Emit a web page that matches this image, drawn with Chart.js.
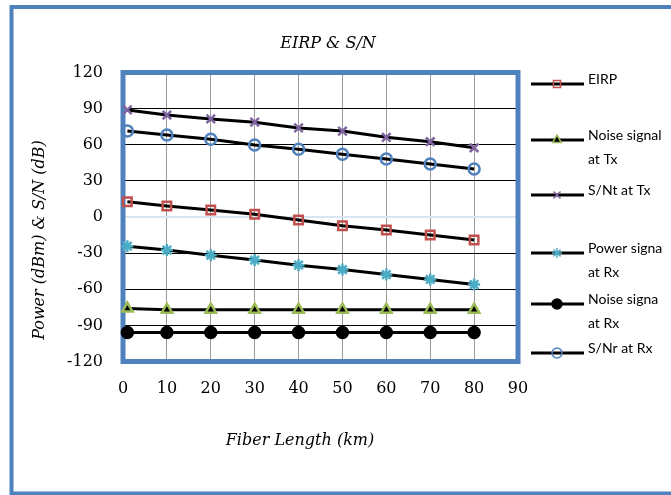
<!DOCTYPE html>
<html>
<head>
<meta charset="utf-8">
<script src="https://cdn.jsdelivr.net/npm/chart.js@4.4.1/dist/chart.umd.min.js"></script>
<style>
  html, body { margin: 0; padding: 0; background: #fff; }
  #wrap { width: 671px; height: 495px; }
</style>
</head>
<body>
<div id="wrap"><canvas id="chart" width="671" height="495"></canvas></div>
<script>
// fiber length (km)
const fiberLength = [1, 10, 20, 30, 40, 50, 60, 70, 80];

const eirp = [12.7, 9.1, 5.8, 2.2, -2.5, -7.2, -10.8, -15, -19.1];
const noiseTx = [-76, -77, -77, -77, -77, -77, -77, -77, -77];
const snTx = [88.9, 84.7, 81.4, 78.7, 74, 71.4, 66.2, 62.5, 57.5];
const powerRx = [-24.2, -27.5, -31.7, -35.8, -40, -43.6, -47.8, -51.9, -56.1];
const noiseRx = [-96, -96, -96, -96, -96, -96, -96, -96, -96];
const snRx = [71.4, 68.1, 64.5, 59.8, 56.2, 52.1, 48.2, 44, 39.9];

const seriesNames = ["EIRP", "Noise signal at Tx", "S/Nt at Tx", "Power signal at Rx", "Noise signal at Rx", "S/Nr at Rx"];
const legendLines = [["EIRP"], ["Noise signal", "at Tx"], ["S/Nt at Tx"], ["Power signa", "at Rx"], ["Noise signa", "at Rx"], ["S/Nr at Rx"]];

const chartTitle = "EIRP & S/N";
const xTitle = "Fiber Length (km)";
const yTitle = "Power (dBm) & S/N (dB)";

const BLUE = "#4F81BD";

function pts(values) {
  return values.map((v, i) => ({ x: fiberLength[i], y: v }));
}

function series(label, values, style, fill, stroke, radius) {
  return {
    label: label,
    data: pts(values),
    borderColor: "#000",
    borderWidth: 3,
    pointStyle: style,
    pointRadius: radius,
    pointHoverRadius: radius,
    pointBackgroundColor: fill,
    pointBorderColor: stroke,
    pointBorderWidth: 2.5,
    tension: 0,
    clip: false,
  };
}

const datasets = [
  series(seriesNames[0], eirp, "rect", "rgba(0,0,0,0)", "#C0504D", 6),
  series(seriesNames[1], noiseTx, "triangle", "#000", "#9BBB59", 6),
  series(seriesNames[2], snTx, "crossRot", "#8064A2", "#8064A2", 6),
  series(seriesNames[3], powerRx, "star", "#4BACC6", "#4BACC6", 6),
  series(seriesNames[4], noiseRx, "circle", "#000", "#000", 5.5),
  series(seriesNames[5], snRx, "circle", "rgba(0,0,0,0)", "#4F81BD", 5.5),
];

const legendRows = [84, 140, 195, 253, 304, 353];

const framePlugin = {
  id: "frame",
  beforeDraw(chart) {
    const ctx = chart.ctx;
    ctx.save();
    ctx.fillStyle = "#fff";
    ctx.fillRect(0, 0, chart.width, chart.height);
    ctx.strokeStyle = BLUE;
    ctx.lineWidth = 4;
    ctx.strokeRect(11.5, 7, 700, 486.5);
    ctx.restore();
  },
  beforeDatasetsDraw(chart) {
    const a = chart.chartArea;
    const ctx = chart.ctx;
    ctx.save();
    ctx.strokeStyle = BLUE;
    ctx.lineWidth = 5;
    ctx.strokeRect(a.left, a.top, a.right - a.left, a.bottom - a.top);
    ctx.restore();
  },
  afterDraw(chart) {
    const ctx = chart.ctx;
    ctx.save();
    ctx.fillStyle = "#000";
    ctx.textAlign = "center";
    ctx.textBaseline = "middle";
    ctx.font = "italic 16px 'DejaVu Serif'";
    ctx.fillText(chartTitle, 328, 44);
    ctx.fillText(xTitle, 300, 441);
    ctx.save();
    ctx.translate(40, 240);
    ctx.rotate(-Math.PI / 2);
    ctx.fillText(yTitle, 0, 0);
    ctx.restore();

    // legend
    chart.data.datasets.forEach((ds, i) => {
      const y = legendRows[i];
      ctx.strokeStyle = "#000";
      ctx.lineWidth = 3;
      ctx.beginPath();
      ctx.moveTo(531, y);
      ctx.lineTo(584, y);
      ctx.stroke();
      ctx.fillStyle = ds.pointBackgroundColor;
      ctx.strokeStyle = ds.pointBorderColor;
      ctx.lineWidth = 1.5;
      Chart.helpers.drawPoint(ctx, { pointStyle: ds.pointStyle, radius: 5, borderWidth: 1.5, rotation: 0 }, 557, y);
      ctx.fillStyle = "#000";
      ctx.textAlign = "left";
      ctx.font = "14px Lato";
      legendLines[i].forEach((t, k) => {
        ctx.fillText(t, 588, y - 5 + k * 24);
      });
    });
    ctx.restore();
  },
};

new Chart(document.getElementById("chart"), {
  type: "line",
  data: { datasets: datasets },
  options: {
    responsive: false,
    animation: false,
    layout: { padding: { left: 0, top: 72.5, right: 153, bottom: 0 } },
    plugins: {
      legend: { display: false },
      tooltip: { enabled: false },
      title: { display: false },
    },
    scales: {
      x: {
        type: "linear",
        min: 0,
        max: 90,
        afterFit: (s) => { s.height = 133.5; },
        ticks: {
          stepSize: 10,
          color: "#000",
          padding: 18,
          font: { family: "DejaVu Serif", size: 16 },
        },
        grid: { color: "#999", drawTicks: false },
        border: { display: false },
      },
      y: {
        min: -120,
        max: 120,
        afterFit: (s) => { s.width = 123; },
        ticks: {
          stepSize: 30,
          color: "#000",
          padding: 20,
          font: { family: "DejaVu Serif", size: 16 },
        },
        grid: {
          color: (c) => (c.tick && c.tick.value === 0 ? "#dbe5f1" : "#000"),
          lineWidth: (c) => (c.tick && c.tick.value === 0 ? 2 : 1),
          drawTicks: false,
        },
        border: { display: false },
      },
    },
  },
  plugins: [framePlugin],
});
</script>
</body>
</html>
